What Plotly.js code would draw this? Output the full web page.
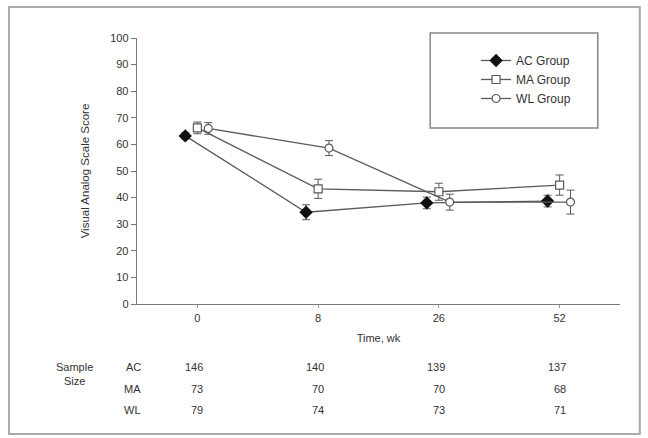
<!DOCTYPE html>
<html><head><meta charset="utf-8">
<script src="https://cdn.plot.ly/plotly-3.0.1.min.js"></script>
<style>html,body{margin:0;padding:0;background:#fff}#c{width:648px;height:438px}</style>
</head><body><div id="c"></div>
<script>
const weeks = ['0', '8', '26', '52'];
const groups = ['AC Group', 'MA Group', 'WL Group'];
const acScore = [63.2, 34.5, 38.0, 38.7];
const acErr = [1.2, 2.8, 2.2, 2.2];
const maScore = [66.2, 43.3, 42.2, 44.7];
const maErr = [2.2, 3.6, 3.2, 3.8];
const wlScore = [66.0, 58.6, 38.3, 38.3];
const wlErr = [2.2, 2.8, 3.0, 4.5];
const sampleRows = ['AC', 'MA', 'WL'];
const acN = [146, 140, 139, 137];
const maN = [73, 70, 70, 68];
const wlN = [79, 74, 73, 71];

const FONT = 'Liberation Sans, Arial, sans-serif';
const LINE = '#5a5a5a';
const offsets = [-0.1, 0, 0.09];
const pos = (k) => weeks.map((w, i) => i + offsets[k]);

function trace(k, y, err, symbol, fill) {
  return {
    type: 'scatter', mode: 'lines+markers', name: groups[k],
    x: pos(k), y: y,
    line: {color: LINE, width: 1.3},
    marker: {symbol: symbol, size: symbol === 'diamond' ? 9 : 8, color: fill, line: {color: symbol === 'diamond' ? '#111' : LINE, width: 1.2}},
    error_y: {type: 'data', array: err, visible: true, color: LINE, thickness: 1, width: 4}
  };
}

const data = [
  trace(0, acScore, acErr, 'diamond', '#111'),
  trace(1, maScore, maErr, 'square', '#fff'),
  trace(2, wlScore, wlErr, 'circle', '#fff')
];

const annotations = [];
const rowY = [-0.237, -0.32, -0.4];
const counts = [acN, maN, wlN];
sampleRows.forEach((r, j) => {
  annotations.push({xref: 'paper', yref: 'paper', x: 0.012, y: rowY[j], text: r, showarrow: false, xanchor: 'right', yanchor: 'middle', font: {family: FONT, size: 11, color: '#333'}});
  counts[j].forEach((n, i) => {
    annotations.push({xref: 'x', yref: 'paper', x: i, y: rowY[j], text: String(n), showarrow: false, xanchor: 'right', xshift: 8, yanchor: 'middle', font: {family: FONT, size: 11, color: '#333'}});
  });
});
annotations.push({xref: 'paper', yref: 'paper', x: -0.13, y: -0.237, text: 'Sample<br>Size', showarrow: false, xanchor: 'center', yanchor: 'top', yshift: 8, align: 'center', font: {family: FONT, size: 11, color: '#333'}});

const layout = {
  width: 648, height: 438,
  margin: {l: 137, r: 28, t: 38, b: 134},
  paper_bgcolor: '#fff', plot_bgcolor: '#fff',
  showlegend: true,
  legend: {x: 0.702, y: 0.97, xanchor: 'left', yanchor: 'top', bgcolor: 'rgba(0,0,0,0)', borderwidth: 0, font: {family: FONT, size: 12, color: '#333'}, tracegroupgap: 0},
  xaxis: {
    range: [-0.5, 3.5], tickvals: [0, 1, 2, 3], ticktext: weeks,
    showgrid: false, zeroline: false, showline: true, linecolor: '#777', linewidth: 1.3,
    ticks: 'outside', ticklen: 3, tickcolor: '#999', tickfont: {family: FONT, size: 11, color: '#333'},
    title: {text: 'Time, wk', font: {family: FONT, size: 11, color: '#333'}, standoff: 11},
    automargin: false
  },
  yaxis: {
    range: [0, 100], dtick: 10,
    showgrid: false, zeroline: false, showline: true, linecolor: '#777', linewidth: 1.3,
    ticks: 'outside', ticklen: 5, tickcolor: '#777', tickfont: {family: FONT, size: 11, color: '#333'},
    title: {text: 'Visual Analog Scale Score', font: {family: 'Liberation Sans Narrow, Liberation Sans, Arial, sans-serif', size: 11.5, color: '#333'}, standoff: 18},
    automargin: false
  },
  shapes: [
    {type: 'rect', xref: 'paper', yref: 'paper', x0: -0.265, x1: 1.041, y0: -0.489, y1: 1.117, line: {color: '#aaa', width: 2}},
    {type: 'rect', xref: 'paper', yref: 'paper', x0: 0.607, x1: 0.954, y0: 0.662, y1: 1.019, line: {color: '#888', width: 1.5}}
  ],
  annotations: annotations
};

Plotly.newPlot('c', data, layout, {staticPlot: true, displayModeBar: false});
</script></body></html>
